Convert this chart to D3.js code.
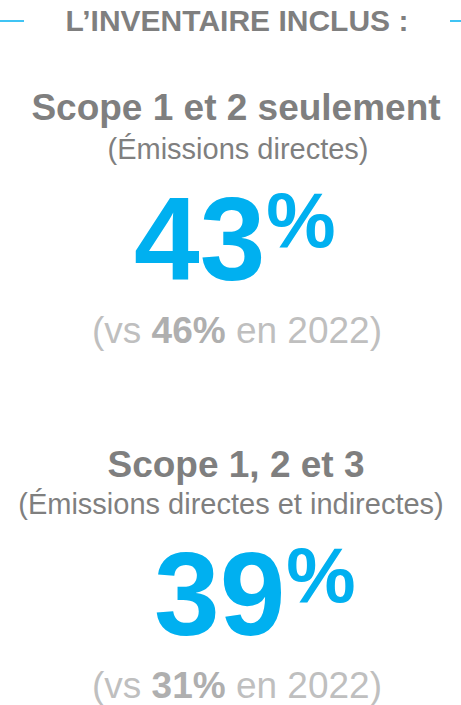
<!DOCTYPE html>
<html>
<head>
<meta charset="utf-8">
<script src="https://cdn.jsdelivr.net/npm/d3@7/dist/d3.min.js"></script>
<style>
  html, body { margin: 0; padding: 0; background: #ffffff; }
  svg { display: block; }
  text { font-family: "Liberation Sans", Arial, sans-serif; }
</style>
</head>
<body>
<script>
// ---- data ----
const headerTitle = "L\u2019INVENTAIRE INCLUS :";
const scopeTitles = ["Scope 1 et 2 seulement", "Scope 1, 2 et 3"];
const scopeSubtitles = ["(\u00C9missions directes)", "(\u00C9missions directes et indirectes)"];
const currentValues = [43, 39];
const previousValues = [46, 31];
const previousYear = "2022";

// ---- layout ----
const W = 461, H = 705;
const cx = 236;
const blue = "#00B0F0", gray = "#7F7F7F", light = "#BFBFBF", lightBold = "#AFAFAF";

const svg = d3.select("body").append("svg").attr("width", W).attr("height", H);

// header
svg.append("line").attr("x1", 0).attr("x2", 24).attr("y1", 21).attr("y2", 21)
  .attr("stroke", blue).attr("stroke-width", 1.5);
svg.append("line").attr("x1", 450).attr("x2", W).attr("y1", 21).attr("y2", 21)
  .attr("stroke", blue).attr("stroke-width", 1.5);
svg.append("text").attr("x", 237).attr("y", 31).attr("text-anchor", "middle")
  .attr("font-size", 30).attr("font-weight", "bold").attr("fill", gray)
  .text(headerTitle);

// block positions
const blockY = d3.scaleOrdinal().domain([0, 1]).range([0, 355]);
const numX = [134, 154];
const fmt = d3.format("d");

const blocks = svg.selectAll("g.block").data(currentValues.map((v, i) => ({
  i, v, prev: previousValues[i], title: scopeTitles[i], sub: scopeSubtitles[i]
}))).join("g").attr("class", "block")
  .attr("transform", d => `translate(0,${blockY(d.i)})`);

blocks.append("text").attr("x", cx).attr("y", d => d.i === 0 ? 120 : 122).attr("text-anchor", "middle")
  .attr("font-size", 37).attr("font-weight", "bold").attr("fill", gray)
  .text(d => d.title);

blocks.append("text").attr("x", d => d.i === 0 ? 238 : 231).attr("y", 159)
  .attr("text-anchor", "middle")
  .attr("font-size", 29).attr("fill", gray)
  .text(d => d.sub);

const big = blocks.append("text").attr("x", d => numX[d.i]).attr("y", 280)
  .attr("font-weight", "bold").attr("fill", blue);
big.append("tspan").attr("font-size", 118).text(d => fmt(d.v));
big.append("tspan").attr("font-size", 78).attr("dx", 1).attr("dy", -33).text("%");

const vs = blocks.append("text").attr("x", 237).attr("y", 343).attr("text-anchor", "middle")
  .attr("font-size", 37).attr("fill", light);
vs.append("tspan").text("(vs ");
vs.append("tspan").attr("font-weight", "bold").attr("fill", lightBold).text(d => fmt(d.prev) + "%");
vs.append("tspan").text(" en " + previousYear + ")");
</script>
</body>
</html>
